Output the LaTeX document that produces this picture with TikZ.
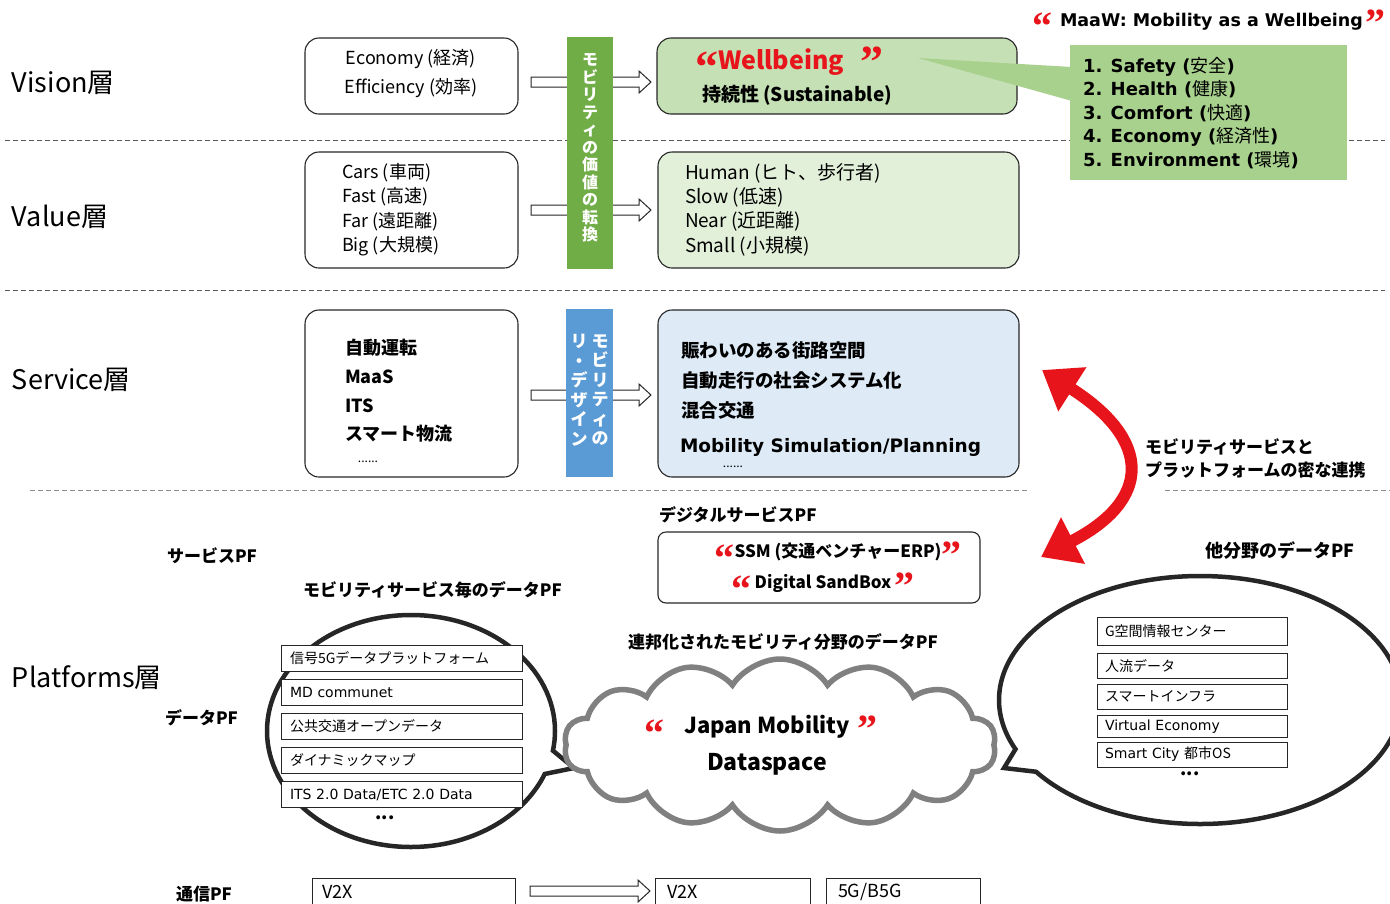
\documentclass[tikz,border=0pt]{standalone}
\usepackage{fontspec}
\setmainfont{Noto Sans CJK JP}
\newfontfamily\qf{Liberation Serif}
\newfontfamily\dv{DejaVu Sans}
\usetikzlibrary{shapes.symbols,shapes.callouts,arrows.meta}
\definecolor{qred}{HTML}{E8141B}
\definecolor{barg}{HTML}{70AD47}
\definecolor{barb}{HTML}{5B9BD5}
\definecolor{wbfill}{HTML}{C5E0B4}
\definecolor{valfill}{HTML}{E2F0D9}
\definecolor{svfill}{HTML}{DEEBF7}
\definecolor{calg}{HTML}{A9D18E}
\newcommand{\myoq}[2]{\smash{\raisebox{#2}{\fontsize{#1}{#1}\selectfont\qf\bfseries\color{qred}“}}}
\newcommand{\mycq}[2]{\smash{\raisebox{#2}{\fontsize{#1}{#1}\selectfont\qf\bfseries\color{qred}”}}}
\newcommand{\fs}[1]{\fontsize{#1}{#1}\selectfont}
\newcommand{\fsl}[2]{\fontsize{#1}{#2}\selectfont}
\newcommand{\hollowarrow}[3]{\draw[harrow] (#1,#3-5) -- (#2-12,#3-5) -- (#2-12,#3-11) -- (#2,#3) -- (#2-12,#3+11) -- (#2-12,#3+5) -- (#1,#3+5) -- cycle;}
\begin{document}
\begin{tikzpicture}[x=1pt,y=-1pt,
  every node/.style={inner sep=0pt, outer sep=0pt},
  sepline/.style={draw=black!65, line width=1pt, dash pattern=on 5pt off 3pt},
  sepline2/.style={draw=black!45, line width=1pt, dash pattern=on 5pt off 3pt},
  rbox/.style={draw=black!85, line width=1.1pt, rounded corners=14pt, anchor=north west},
  layer/.style={anchor=west, font=\fs{27}},
  lbl/.style={anchor=west, font=\fs{17}\bfseries},
  btxt/.style={anchor=west, align=left},
  harrow/.style={draw=black!85, line width=1pt, fill=white},
  litem/.style={draw=black!85, line width=1pt, fill=white, anchor=west, minimum height=26pt, minimum width=241pt, text width=223pt, inner xsep=9pt, align=left, font=\fs{14}},
  ritem/.style={draw=black!85, line width=1pt, fill=white, anchor=west, minimum height=25pt, minimum width=190pt, text width=174pt, inner xsep=8pt, align=left, font=\fs{14}},
  vbar/.style={anchor=north west, draw=none},
  vtext/.style={text=white, align=center},
  bubble/.style={ellipse callout, draw=black!85, line width=4.5pt, fill=white, callout pointer arc=12}
]
\useasboundingbox (0,0) rectangle (1390,903);

% separators
\draw[sepline] (5,140) -- (1385,140);
\draw[sepline] (5,290) -- (1385,290);
\draw[sepline2] (30,490) -- (1030,490);
\draw[sepline2] (1165,490) -- (1390,490);

% layer labels
\node[layer] (lvision) at (12,83) {Vision層};
\node[layer] (lvalue) at (12,217) {Value層};
\node[layer] (lservice) at (12,380) {Service層};
\node[layer] (lplat) at (12,678) {Platforms層};

% left boxes
\node[rbox, minimum width=213pt, minimum height=76pt] (eco) at (305,38) {};
\node[align=center, font=\fsl{18}{29}] (ecot) at (411,74) {Economy (経済)\\Efficiency (効率)};
\node[rbox, minimum width=213pt, minimum height=116pt] (cars) at (305,152) {};
\node[btxt, font=\fsl{18}{24.4}] (carst) at (342,209.5) {Cars (車両)\\Fast (高速)\\Far (遠距離)\\Big (大規模)};
\node[rbox, minimum width=213pt, minimum height=167pt] (svl) at (305,310) {};
\node[btxt, font=\fsl{18}{28.7}\bfseries] (svlt) at (345,391) {自動運転\\MaaS\\ITS\\スマート物流};
\node[font=\fs{12}] (svld) at (368,462) {......};

% hollow arrows (behind bars)
\hollowarrow{531}{651}{82}
\hollowarrow{531}{651}{210}
\hollowarrow{531}{651}{395}

% vertical bars
\node[vbar, fill=barg, minimum width=46pt, minimum height=232pt] (gbar) at (567,37) {};
\node[vtext, font=\fsl{16}{17.5}\bfseries] (gbart) at (590,148) {モ\\ビ\\リ\\テ\\ィ\\の\\価\\値\\の\\転\\換};
\node[vbar, fill=barb, minimum width=47pt, minimum height=168pt] (bbar) at (566,309) {};
\node[vtext, font=\fsl{17}{19.5}\bfseries] (bbart1) at (600,390) {モ\\ビ\\リ\\テ\\ィ\\の};
\node[vtext, font=\fsl{17}{19.5}\bfseries] (bbart2) at (579,390) {リ\\・\\デ\\ザ\\イ\\ン};

% right boxes
\node[rbox, fill=wbfill, minimum width=360pt, minimum height=76pt] (wb) at (657,38) {};
\node[anchor=west, font=\fs{25}\bfseries, text=qred] (wbt) at (695,62) {\myoq{46}{-13pt}Wellbeing\hspace{16pt}\mycq{46}{-8pt}};
\node[anchor=west, font=\fs{19}\bfseries] (wbs) at (702,95) {持続性 (Sustainable)};
\node[rbox, fill=valfill, minimum width=361pt, minimum height=116pt] (valr) at (658,152) {};
\node[btxt, font=\fsl{19}{24.4}] (valrt) at (685,209.5) {Human (ヒト、歩行者)\\Slow (低速)\\Near (近距離)\\Small (小規模)};
\node[rbox, fill=svfill, minimum width=361pt, minimum height=167pt] (svr) at (658,310) {};
\node[btxt, font=\fsl{18.5}{30}\bfseries] (svrt) at (681,380.5) {賑わいのある街路空間\\自動走行の社会システム化\\混合交通};
\node[anchor=west, font=\fs{18.5}\dv\bfseries] (svrm) at (680,447) {Mobility Simulation/Planning};
\node[font=\fs{12}] (svrd) at (733,467) {......};

% MaaW callout
\node[anchor=west, font=\fs{17.5}\dv\bfseries] (maawt) at (1032,22) {\myoq{40}{-13pt}\hspace{8pt}MaaW: Mobility as a Wellbeing\hspace{3pt}\mycq{40}{-10pt}};
\node[vbar, fill=calg, minimum width=277pt, minimum height=135pt] (maaw) at (1070,45) {};
\fill[calg] (918,58) -- (1072,67) -- (1072,101) -- cycle;
\node[btxt, font=\fsl{18}{23.5}] (maawl) at (1083,113) {{\dv\bfseries 1. Safety (}安全{\dv\bfseries )}\\{\dv\bfseries 2. Health (}健康{\dv\bfseries )}\\{\dv\bfseries 3. Comfort (}快適{\dv\bfseries )}\\{\dv\bfseries 4. Economy (}経済性{\dv\bfseries )}\\{\dv\bfseries 5. Environment (}環境{\dv\bfseries )}};

% red double arrow
\draw[qred, line width=12pt, {Triangle[length=36pt,width=50pt]}-{Triangle[length=36pt,width=50pt]}] (1042,370) .. controls (1152,440) and (1152,500) .. (1041,557);
\node[btxt, font=\fsl{17}{23}\bfseries] (link) at (1145,458.5) {モビリティサービスと\\プラットフォームの密な連携};

% platform labels
\node[lbl] (spf) at (167,556) {サービスPF};
\node[lbl] (dpf) at (165,718) {データPF};
\node[lbl] (cpf) at (176,894) {通信PF};
\node[lbl] (dspf) at (659,515) {デジタルサービスPF};
\node[lbl] (mspf) at (303,590) {モビリティサービス毎のデータPF};
\node[lbl] (fedpf) at (628,642) {連邦化されたモビリティ分野のデータPF};
\node[lbl, font=\fs{18}\bfseries] (otherpf) at (1205,551) {他分野のデータPF};

% digital service box
\node[rbox, rounded corners=8pt, minimum width=322pt, minimum height=71pt] (dig) at (658,532) {};
\node[font=\fs{17}\bfseries] (digt1) at (838,552) {\myoq{40}{-14pt}SSM (交通ベンチャーERP)\mycq{40}{-11pt}};
\node[font=\fs{17}\bfseries] (digt2) at (823,583) {\myoq{40}{-14pt}\,Digital SandBox\,\mycq{40}{-11pt}};

% bubbles and cloud
\node[bubble, minimum width=288pt, minimum height=232pt, callout absolute pointer={(574,768)}] (lbub) at (411,731) {};
\node[bubble, minimum width=402pt, minimum height=248pt, callout absolute pointer={(1004,768)}] (rbub) at (1200,700) {};
\node[cloud, cloud puffs=14, cloud puff arc=115, aspect=2.5, draw=black!50, line width=5.5pt, fill=white, minimum width=432pt, minimum height=172pt] (jmd) at (780,745) {};
\node[font=\fs{22}\bfseries] (jmdt1) at (761,727) {\myoq{40}{-13pt}\hspace{20pt}Japan Mobility\hspace{8pt}\mycq{40}{-9pt}};
\node[font=\fs{23}\bfseries] (jmdt2) at (767,764) {Dataspace};

% left list
\node[litem] (l1) at (281,658.5) {信号5Gデータプラットフォーム};
\node[litem] (l2) at (281,692) {\dv MD communet};
\node[litem] (l3) at (281,726.5) {公共交通オープンデータ};
\node[litem] (l4) at (281,760) {ダイナミックマップ};
\node[litem] (l5) at (281,794.5) {\dv ITS 2.0 Data/ETC 2.0 Data};
\node[font=\fs{18}\bfseries] (ldots) at (385,818) {...};

% right list
\node[ritem, minimum height=28pt] (r1) at (1097,631) {G空間情報センター};
\node[ritem] (r2) at (1097,666) {人流データ};
\node[ritem] (r3) at (1097,696.5) {スマートインフラ};
\node[ritem, minimum height=22pt] (r4) at (1097,726.5) {\dv Virtual Economy};
\node[ritem] (r5) at (1097,754.5) {{\dv Smart City }都市OS};
\node[font=\fs{18}\bfseries] (rdots) at (1190,774) {...};

% communication PF
\node[draw=black!85, line width=1pt, anchor=north west, minimum width=203pt, minimum height=40pt] (v2xa) at (312,878) {};
\node[anchor=west, font=\fs{18}] (v2xat) at (322,892) {V2X};
\hollowarrow{530}{650}{891}
\node[draw=black!85, line width=1pt, anchor=north west, minimum width=155pt, minimum height=40pt] (v2xb) at (655,878) {};
\node[anchor=west, font=\fs{18}] (v2xbt) at (667,892) {V2X};
\node[draw=black!85, line width=1pt, anchor=north west, minimum width=154pt, minimum height=40pt] (g5) at (826,878) {};
\node[anchor=west, font=\fs{18}] (g5t) at (838,892) {5G/B5G};
\end{tikzpicture}
\end{document}
